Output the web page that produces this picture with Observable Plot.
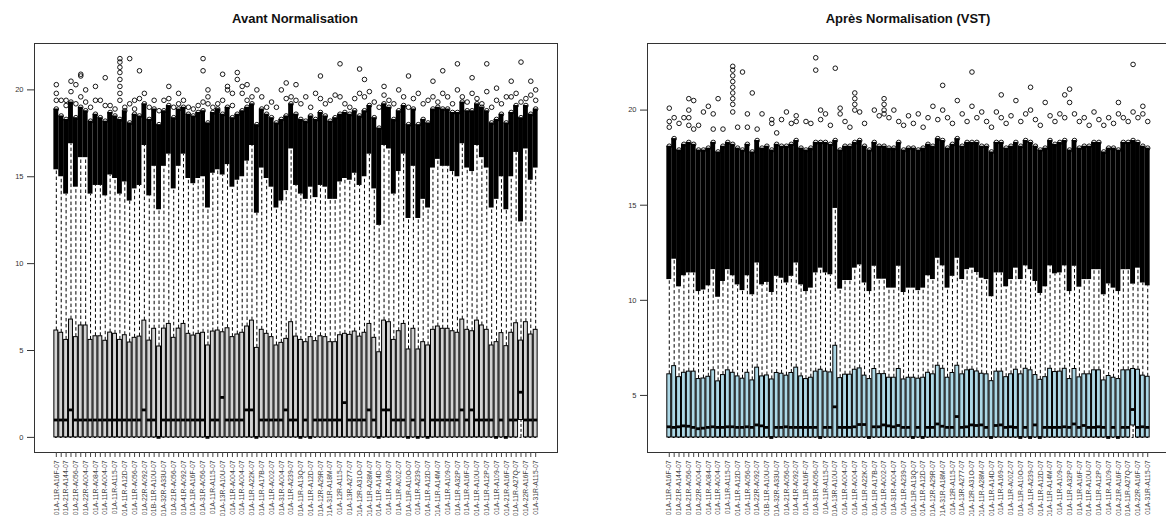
<!DOCTYPE html>
<html><head><meta charset="utf-8">
<script src="https://cdn.jsdelivr.net/npm/d3@7"></script>
<script src="https://cdn.jsdelivr.net/npm/@observablehq/plot@0.6"></script>
<style>
html,body{margin:0;padding:0;background:#fff;overflow:hidden;width:1166px;height:516px;}
.panel{position:absolute;top:0;height:516px;}
.title{height:30px;position:relative;font:bold 13px "Liberation Sans",Arial,sans-serif;color:#111;}
.title span{position:absolute;top:11px;transform:translateX(-50%);white-space:nowrap;}
svg{display:block;}
</style></head><body>
<div id="left" class="panel" style="left:0;width:583px"><div class="title"><span style="left:295px">Avant Normalisation</span></div></div>
<div id="right" class="panel" style="left:583px;width:590px"><div class="title"><span style="left:325px">Après Normalisation (VST)</span></div></div>
<script>
// ---- sample positions and visible tick labels (every other sample is labelled) ----
const samplePos = [1,2,3,4,5,6,7,8,9,10,11,12,13,14,15,16,17,18,19,20,21,22,23,24,25,26,27,28,29,30,31,32,33,34,35,36,37,38,39,40,41,42,43,44,45,46,47,48,49,50,51,52,53,54,55,56,57,58,59,60,61,62,63,64,65,66,67,68,69,70,71,72,73,74,75,76,77,78,79,80,81,82,83,84,85,86,87,88,89,90,91,92,93,94,95,96,97,98,99];
const shownLabels = ["01A-11R-A16F-07","01A-21R-A144-07","01A-21R-A056-07","01A-22R-A004-07","01A-11R-A084-07","01A-11R-A004-07","01A-11R-A115-07","01A-11R-A12D-07","01A-11R-A056-07","01A-22R-A092-07","01B-11R-A10U-07","01A-32R-A33U-07","01A-21R-A056-07","01A-41R-A092-07","01A-11R-A16F-07","01A-31R-A056-07","01A-11R-A115-07","01A-13R-A10U-07","01A-11R-A004-07","01A-11R-A004-07","01A-11R-A22K-07","01A-11R-A17B-07","01A-11R-A002-07","01A-31R-A004-07","01A-11R-A239-07","01A-11R-A13Q-07","01A-11R-A12D-07","01A-12R-A29R-07","01A-31R-A18M-07","01A-12R-A115-07","01A-13R-A277-07","01A-12R-A31O-07","01A-11R-A28M-07","01A-11R-A14D-07","01A-11R-A169-07","01A-11R-A00Z-07","01A-11R-A10O-07","01A-11R-A239-07","01A-11R-A12D-07","01A-11R-A14M-07","01A-11R-A109-07","01A-11R-A32P-07","01A-11R-A16F-07","01A-11R-A10U-07","01A-11R-A12P-07","01A-11R-A109-07","01A-21R-A16F-07","01A-11R-A27Q-07","01A-22R-A16F-07","01A-31R-A115-07"];
const leftTicks = [0,5,10,15,20];
const rightTicks = [5,10,15,20];

// ---- Avant normalisation (log2 counts) ----
const rawMin = [0,0,0,0,0,0,0,0,0,0,0,0,0,0,0,0,0,0,0,0,0,0,0,0,0,0,0,0,0,0,0,0,0,0,0,0,0,0,0,0,0,0,0,0,0,0,0,0,0,0,0,0,0,0,0,0,0,0,0,0,0,0,0,0,0,0,0,0,0,0,0,0,0,0,0,0,0,0,0,0,0,0,0,0,0,0,0,0,0,0,0,0,0,0,0,0,0,0,0];
const rawQ1 = [0,0,0,0,0,0,0,0,0,0,0,0,0,0,0,0,0,0,0,0,0,0,0,0,0,0,0,0,0,0,0,0,0,0,0,0,0,0,0,0,0,0,0,0,0,0,0,0,0,0,0,0,0,0,0,0,0,0,0,0,0,0,0,0,0,0,0,0,0,0,0,0,0,0,0,0,0,0,0,0,0,0,0,0,0,0,0,0,0,0,0,0,0,0,0,1.0,0,0,0];
const rawMedian = [1,1,1,1.58,1,1,1,1,1,1, 1,1,1,1,1,1,1,1,1.58,1, 1,0,1,1,1,1,1,1,1,1, 1,0,1,1,2.3,1,1,1,1,1.58, 1.58,0,1,1,1,1,1,1.58,1,1, 0,1,0,1,1,1,1,1,1,2.0, 1,1,1,1,1.58,1,0,1.58,1.58,1, 1,1,0,1,0,1,0,1,1,1, 1,1,1,1.58,1,1.58,1,1,1,1, 0,1,0,1,1,2.6,1,1,1];
const rawQ3 = [6.15,6.02,5.61,6.78,5.77,6.44,6.44,5.61,5.82,5.82, 5.56,6.03,5.96,5.61,5.88,5.46,5.73,5.80,6.72,5.57, 6.25,5.23,6.26,6.53,5.73,6.26,6.53,5.96,5.86,5.96, 6.02,5.29,6.09,6.15,6.05,6.28,5.77,5.92,6.02,6.38, 6.72,5.15,6.19,5.96,5.77,5.29,5.44,5.67,6.63,5.80, 5.61,5.48,5.77,5.54,5.82,5.77,5.48,5.48,5.88,5.96, 5.90,6.09,5.80,6.02,6.53,5.73,4.90,6.72,6.63,5.61, 6.11,6.53,5.06,6.25,5.06,5.48,5.29,6.19,6.38,6.25, 6.25,6.11,6.02,6.78,6.19,6.11,6.72,6.44,6.19,5.29, 5.48,6.00,5.25,6.02,6.57,5.57,6.63,5.92,6.19];
const rawWhiskerTop = [15.4,15.0,14.0,16.9,14.4,16.1,16.1,14.0,14.5,14.5, 13.9,15.1,14.9,14.0,14.7,13.6,14.3,14.5,16.8,13.9, 15.6,13.1,15.6,16.3,14.3,15.6,16.3,14.9,14.6,14.9, 15.0,13.2,15.2,15.4,15.1,15.7,14.4,14.8,15.0,15.9, 16.8,12.9,15.5,14.9,14.4,13.2,13.6,14.2,16.6,14.5, 14.0,13.7,14.4,13.8,14.5,14.4,13.7,13.7,14.7,14.9, 14.8,15.2,14.5,15.0,16.3,14.3,12.2,16.8,16.6,14.0, 15.3,16.3,12.6,15.6,12.6,13.7,13.2,15.5,16.0,15.6, 15.6,15.3,15.0,16.9,15.5,15.3,16.8,16.1,15.5,13.2, 13.7,15.0,13.1,15.0,16.4,12.4,16.6,14.8,15.5];
const rawDenseTop = [18.9,18.5,18.3,19.3,18.4,19.0,18.8,18.2,18.6,18.4, 18.2,18.7,18.5,18.3,18.8,18.1,18.6,18.5,19.2,18.3, 18.9,18.0,18.8,19.1,18.4,18.9,19.0,18.6,18.5,18.7, 18.8,18.1,18.7,18.9,18.6,19.0,18.4,18.6,18.8,19.0, 19.2,18.0,18.9,18.6,18.4,18.1,18.3,18.5,19.2,18.6, 18.3,18.2,18.5,18.3,18.7,18.5,18.2,18.4,18.6,18.7, 18.6,18.8,18.5,18.8,19.1,18.4,17.8,19.2,19.0,18.3, 18.8,19.1,18.0,18.9,18.0,18.3,18.1,18.9,19.0,18.9, 18.9,18.7,18.7,19.3,18.8,18.8,19.2,19.0,18.8,18.1, 18.3,18.6,18.1,18.7,19.1,18.4,19.1,18.6,18.9];
const rawOutliers = [[1,20.3],[1,19.8],[1,19.4],[2,19.4],[3,19.1],[3,19.4],[4,20.5],[4,19.9],[5,20.3],[5,19.2],[6,20.9],[6,20.8],[6,19.6],[7,20.0],[7,19.3],[8,19.0],[9,20.2],[9,19.4],[10,19.4],[11,20.7],[11,19.1],[12,19.1],[13,18.9],
[14,21.8],[14,21.6],[14,21.3],[14,21.0],[14,20.6],[14,20.2],[14,19.8],[14,19.4],[15,19.0],[16,21.8],[16,19.2],[17,19.4],[17,18.9],[18,21.1],[18,19.5],[19,19.8],[20,19.0],[21,19.4],[22,18.8],[23,19.4],[24,20.2],[24,19.5],[25,19.0],[26,19.8],[26,19.2],[27,19.4],[28,19.0],[29,18.9],[30,19.1],
[31,21.8],[31,21.1],[31,19.3],[32,20.0],[32,19.6],[32,19.2],[33,19.0],[34,19.2],[34,18.8],[35,20.9],[35,19.4],[36,20.2],[36,20.0],[37,19.8],[37,19.1],[38,21.0],[38,20.6],[39,20.2],[39,19.8],[40,20.3],[40,19.4],[41,19.6],[42,20.0],[43,19.6],[44,19.0],[45,19.3],[46,19.0],[47,20.0],[48,20.4],[48,19.5],[49,19.6],[50,20.3],[50,19.4],
[51,19.2],[52,19.6],[53,19.0],[54,19.8],[55,20.8],[55,19.5],[56,19.2],[57,19.4],[58,19.7],[59,21.5],[59,19.6],[60,19.2],[61,19.0],[62,19.5],[63,21.2],[63,19.8],[64,20.6],[64,19.6],[65,19.9],[66,19.3],[67,19.0],[68,20.2],[68,19.7],[69,19.4],[70,19.2],[71,20.0],[72,19.6],[73,20.8],[73,19.0],[74,19.5],[75,19.8],[76,19.2],[77,19.4],[78,20.5],[78,19.6],[79,19.3],[80,21.1],[80,19.8],[81,19.6],[82,19.2],[83,21.5],[83,20.0],[84,19.6],[85,19.3],[86,20.7],[86,19.8],[87,19.5],[88,19.2],[89,21.5],[89,19.9],[90,19.0],[91,20.1],[91,19.4],[92,19.2],[93,19.6],[94,20.5],[94,19.6],[95,19.8],[96,21.6],[96,19.3],[97,19.5],[98,20.5],[98,19.7],[99,20.0],[99,19.4]];

// ---- Après normalisation (VST) ----
const vstMin = [2.79,2.79,2.79,2.79,2.79,2.79,2.79,2.79,2.79,2.79,2.79,2.79,2.79,2.79,2.79,2.79,2.79,2.79,2.79,2.79,2.79,2.79,2.79,2.79,2.79,2.79,2.79,2.79,2.79,2.79,2.79,2.79,2.79,2.79,2.79,2.79,2.79,2.79,2.79,2.79,2.79,2.79,2.79,2.79,2.79,2.79,2.79,2.79,2.79,2.79,2.79,2.79,2.79,2.79,2.79,2.79,2.79,2.79,2.79,2.79,2.79,2.79,2.79,2.79,2.79,2.79,2.79,2.79,2.79,2.79,2.79,2.79,2.79,2.79,2.79,2.79,2.79,2.79,2.79,2.79,2.79,2.79,2.79,2.79,2.79,2.79,2.79,2.79,2.79,2.79,2.79,2.79,2.79,2.79,2.79,2.79,2.79,2.79,2.79];
const vstQ1 = [2.79,2.79,2.79,2.79,2.79,2.79,2.79,2.79,2.79,2.79,2.79,2.79,2.79,2.79,2.79,2.79,2.79,2.79,2.79,2.79,2.79,2.79,2.79,2.79,2.79,2.79,2.79,2.79,2.79,2.79,2.79,2.79,2.79,2.79,2.79,2.79,2.79,2.79,2.79,2.79,2.79,2.79,2.79,2.79,2.79,2.79,2.79,2.79,2.79,2.79,2.79,2.79,2.79,2.79,2.79,2.79,2.79,2.79,2.79,2.79,2.79,2.79,2.79,2.79,2.79,2.79,2.79,2.79,2.79,2.79,2.79,2.79,2.79,2.79,2.79,2.79,2.79,2.79,2.79,2.79,2.79,2.79,2.79,2.79,2.79,2.79,2.79,2.79,2.79,2.79,2.79,2.79,2.79,2.79,2.79,3.42,2.79,2.79,2.79];
const vstMedian = [3.35,3.32,3.35,3.40,3.38,3.32,3.25,3.28,3.32,3.35, 3.32,3.32,3.35,3.35,3.32,3.32,3.35,3.32,3.45,3.40, 3.32,2.79,3.32,3.32,3.35,3.32,3.32,3.32,3.32,3.32, 3.32,2.79,3.32,3.32,4.40,3.32,3.32,3.32,3.35,3.47, 3.47,2.79,3.35,3.35,3.45,3.40,3.35,3.42,3.32,3.32, 2.79,3.32,2.79,3.32,3.32,3.50,3.38,3.32,3.32,3.89, 3.32,3.35,3.45,3.42,3.45,3.32,2.79,3.42,3.45,3.32, 3.35,3.32,2.79,3.32,2.79,3.45,2.79,3.32,3.32,3.32, 3.32,3.35,3.32,3.50,3.32,3.42,3.32,3.32,3.35,3.32, 2.79,3.32,2.79,3.32,3.32,4.26,3.32,3.35,3.32];
const vstQ3 = [6.11,6.54,5.96,6.19,6.25,6.25,5.86,5.89,5.98,6.32, 5.74,6.07,6.32,6.19,6.00,5.88,6.19,5.79,6.46,6.00, 6.05,5.84,6.18,6.14,6.04,6.18,6.46,6.00,5.86,5.93, 6.25,6.35,6.25,6.21,7.61,5.91,6.09,6.09,6.35,6.42, 6.04,5.86,6.39,6.12,6.12,5.93,5.93,6.39,5.84,5.93, 5.93,5.88,5.93,6.19,6.11,6.56,6.40,5.93,6.18,6.56, 6.11,6.32,6.35,6.26,6.14,6.11,5.75,6.25,6.25,5.96, 6.11,6.35,6.11,6.40,6.32,6.07,5.82,5.96,6.40,6.23, 6.25,6.40,5.86,6.39,5.95,6.11,6.11,6.32,6.32,5.79, 6.02,5.93,5.86,6.32,6.32,6.39,6.35,6.04,5.98];
const vstWhiskerTop = [11.09,12.16,10.71,11.29,11.44,11.44,10.46,10.54,10.76,11.61, 10.16,10.99,11.61,11.29,10.81,10.51,11.29,10.29,11.96,10.81, 10.94,10.41,11.26,11.16,10.91,11.26,11.96,10.81,10.46,10.64, 11.44,11.69,11.44,11.34,14.83,10.59,11.04,11.04,11.69,11.86, 10.91,10.46,11.79,11.11,11.11,10.64,10.64,11.79,10.41,10.64, 10.64,10.51,10.64,11.29,11.09,12.21,11.81,10.64,11.26,12.21, 11.09,11.61,11.69,11.46,11.16,11.09,10.19,11.44,11.44,10.71, 11.09,11.69,11.09,11.81,11.61,10.99,10.36,10.71,11.81,11.39, 11.44,11.81,10.46,11.79,10.69,11.09,11.09,11.61,11.61,10.29, 10.86,10.64,10.46,11.61,11.61,10.85,11.69,10.91,10.76];
const vstDenseTop = [18.1,18.5,17.9,18.2,18.3,18.2,17.9,17.9,18.0,18.3, 17.8,18.1,18.3,18.2,18.0,17.9,18.2,17.8,18.4,18.0, 18.1,17.9,18.2,18.1,18.1,18.2,18.4,18.0,17.9,18.0, 18.3,18.3,18.3,18.2,18.4,17.9,18.1,18.1,18.3,18.4, 18.1,17.9,18.3,18.1,18.1,18.0,18.0,18.3,17.9,18.0, 18.0,17.9,18.0,18.2,18.1,18.5,18.4,18.0,18.2,18.5, 18.1,18.3,18.3,18.3,18.1,18.1,17.8,18.3,18.3,18.0, 18.1,18.3,18.1,18.4,18.3,18.1,17.9,18.0,18.4,18.2, 18.3,18.4,17.9,18.4,18.0,18.1,18.1,18.3,18.3,17.8, 18.0,18.0,17.9,18.3,18.3,18.4,18.3,18.1,18.0];
const vstOutliers = [[1,20.1],[1,19.4],[1,19.1],[2,19.6],[3,19.3],[4,19.6],[5,20.6],[5,20.0],[5,19.6],[5,19.2],[6,20.5],[6,19.0],[7,19.2],[8,19.9],[9,20.2],[10,19.8],[10,19.0],[11,20.6],[12,19.0],
[14,22.3],[14,22.1],[14,21.8],[14,21.5],[14,21.2],[14,20.9],[14,20.6],[14,20.3],[14,19.9],[15,19.1],[16,22.0],[17,19.8],[17,19.1],[18,20.9],[19,19.0],[20,19.8],[22,19.5],[22,19.3],[23,18.8],[24,19.5],[25,19.9],[26,19.3],[27,19.7],[27,19.4],[29,19.4],[30,19.3],
[31,22.75],[31,22.1],[32,20.0],[32,19.5],[33,19.8],[34,19.2],[35,22.2],[36,20.1],[36,19.8],[37,19.4],[38,19.1],[39,20.9],[39,20.6],[39,20.3],[39,20.0],[40,19.9],[41,19.3],[43,20.0],[44,19.7],[45,20.6],[45,20.3],[45,20.0],[45,19.8],[46,19.6],[47,20.0],[48,19.4],[49,19.2],[50,19.7],
[51,19.3],[52,19.8],[53,19.1],[54,19.6],[55,20.2],[56,19.5],[57,21.3],[57,20.0],[58,19.6],[59,19.3],[60,20.5],[61,19.8],[62,19.4],[63,22.0],[63,20.2],[64,19.6],[65,19.9],[66,19.4],[67,19.1],[68,19.9],[69,20.8],[69,19.6],[70,19.3],[71,19.7],[72,20.5],[73,19.4],[74,19.8],[75,21.2],[75,20.0],[76,19.5],[77,19.2],[78,20.4],[79,19.7],[80,19.4],[81,19.8],[82,20.8],[82,19.6],[83,21.1],[83,20.4],[84,19.8],[85,19.4],[86,19.6],[87,19.2],[88,19.9],[89,19.5],[90,19.2],[91,19.6],[92,19.3],[93,20.4],[93,19.8],[94,19.6],[95,19.4],[96,22.4],[96,19.9],[97,19.6],[98,20.2],[98,19.8],[99,19.4]];

const FONT = "Liberation Sans, Arial, Helvetica, sans-serif";
const nS = samplePos.length;

function panel(el, o) {
  const rows = samplePos.map((p, k) => ({p, lo: o.min[k], q1: o.q1[k], med: o.med[k], q3: o.q3[k], hi: o.whi[k], top: o.dense[k]}));
  const outl = o.outliers.map(([p, v]) => ({p, v}));
  const chart = Plot.plot({
    width: o.width, height: 486,
    marginLeft: o.marginLeft, marginRight: o.marginRight, marginTop: 13, marginBottom: 64,
    x: {type: "linear", domain: [0.5 - 0.04 * nS, nS + 0.5 + 0.04 * nS]},
    y: {domain: o.ydom},
    style: {fontFamily: FONT, background: "white", color: "#222", overflow: "visible"},
    marks: [
      Plot.ruleX(rows, {x: "p", y1: "q3", y2: "hi", stroke: "#000", strokeWidth: 1, strokeDasharray: "3.5,2.5"}),
      Plot.ruleX(rows.filter(d => d.q1 > d.lo), {x: "p", y1: "lo", y2: "q1", stroke: "#000", strokeWidth: 1, strokeDasharray: "3,2"}),
      Plot.rect(rows, {x1: d => d.p - 0.5, x2: d => d.p + 0.5, y1: "hi", y2: "top", fill: "#000"}),
      Plot.dot(rows, {x: "p", y: "top", r: 2.3, stroke: "#000", strokeWidth: 0.9, fill: "none"}),
      Plot.dot(outl, {x: "p", y: "v", r: 2.3, stroke: "#000", strokeWidth: 0.9, fill: "none"}),
      Plot.ruleY(rows, {y: "lo", x1: d => d.p - 0.2, x2: d => d.p + 0.2, stroke: "#000", strokeWidth: 1}),
      Plot.rect(rows, {x1: d => d.p - 0.4, x2: d => d.p + 0.4, y1: "q1", y2: "q3", fill: o.fill, stroke: "#000", strokeWidth: 1}),
      Plot.ruleY(rows, {y: "med", x1: d => d.p - 0.4, x2: d => d.p + 0.4, stroke: "#000", strokeWidth: 2.8}),
      Plot.frame({stroke: "#333", strokeWidth: 1}),
      Plot.axisY({ticks: o.yticks, label: null, tickSize: 7, tickPadding: 4, fontSize: 7.5, stroke: "#333", fill: "#333"}),
      Plot.axisX({ticks: samplePos, label: null, tickSize: 5, tickPadding: 3, fontSize: 6.8, tickRotate: -90, stroke: "#444", fill: "#444",
        tickFormat: p => (p % 2 === 1 ? shownLabels[(p - 1) / 2] : "")})
    ]
  });
  el.appendChild(chart);
}

panel(document.getElementById("left"), {
  min: rawMin, q1: rawQ1, med: rawMedian, q3: rawQ3, whi: rawWhiskerTop, dense: rawDenseTop, outliers: rawOutliers,
  fill: "#d3d3d3", ydom: [-0.87, 22.67], yticks: leftTicks, width: 583, marginLeft: 34, marginRight: 26
});
panel(document.getElementById("right"), {
  min: vstMin, q1: vstQ1, med: vstMedian, q3: vstQ3, whi: vstWhiskerTop, dense: vstDenseTop, outliers: vstOutliers,
  fill: "#add8e6", ydom: [2.0, 23.5], yticks: rightTicks, width: 586, marginLeft: 64, marginRight: 0
});
</script>
</body></html>
